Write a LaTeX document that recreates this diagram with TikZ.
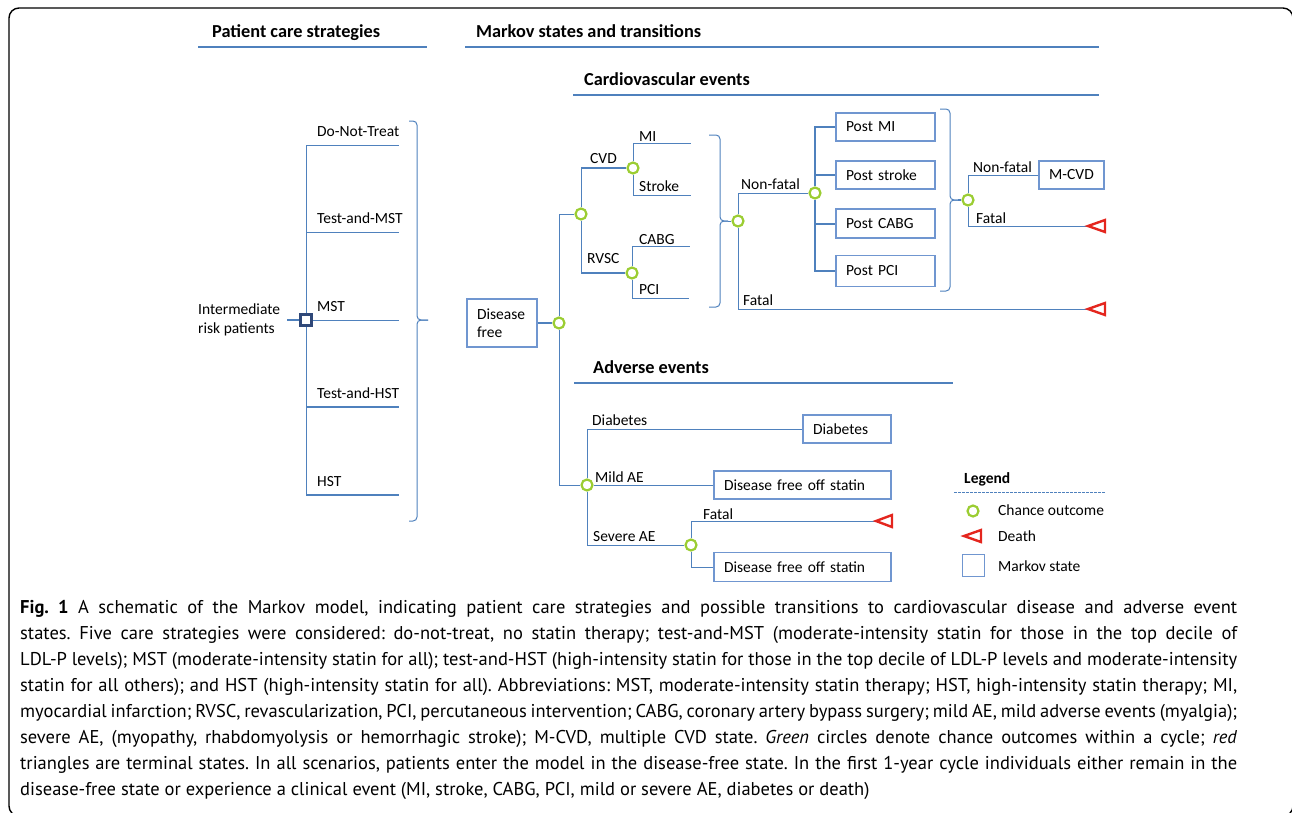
\documentclass[tikz,border=0pt]{standalone}
\usepackage{fontspec}
\setmainfont{Carlito}
\newfontfamily\capfont{PT Sans}
\usetikzlibrary{calc}
\frenchspacing
\definecolor{lineblue}{RGB}{79,129,189}
\definecolor{boxblue}{RGB}{112,150,208}
\definecolor{decblue}{RGB}{47,72,120}
\definecolor{chgreen}{RGB}{155,205,50}
\definecolor{deathred}{RGB}{228,38,30}
\newcommand\lblfont{\fontsize{15.5}{18}\selectfont}
\newcommand\hdfont{\fontsize{18.3}{21}\selectfont\bfseries}
\newcommand\capsize{\capfont\fontsize{18.5}{24}\selectfont}
\tikzset{
 ln/.style={draw=lineblue, line width=1pt},
 thk/.style={draw=lineblue, line width=2pt},
 chance/.style={circle, draw=chgreen, line width=2.2pt, fill=white, minimum size=11pt, inner sep=0pt},
 statebox/.style={draw=boxblue, line width=1.1pt, fill=white, inner xsep=10pt, inner ysep=0pt, align=left, font=\lblfont},
 lbl/.style={font=\lblfont, inner sep=0pt, anchor=base west},
 head/.style={font=\hdfont, inner sep=0pt, anchor=base west},
 hline/.style={draw=lineblue, line width=2.2pt},
 deathtri/.style={draw=deathred, line width=2.4pt, fill=white, line join=miter},
 decbox/.style={rectangle, draw=decblue, line width=2.6pt, fill=white, minimum size=11pt, inner sep=0pt},
 bracepath/.style={draw=lineblue, line width=1pt, rounded corners=4pt},
 capline/.style={font=\capsize, inner sep=0pt, anchor=base west},
}
\begin{document}
\begin{tikzpicture}[x=1pt,y=-1pt]
\useasboundingbox (0,0) rectangle (1292,812);
\clip (0,0) rectangle (1292,812);
\draw[black, line width=1.4pt, rounded corners=10pt] (9,8) rectangle (1293,816);

% headings
\node[head] (h1) at (212,37) {Patient care strategies};
\draw[hline] (198,47) -- (427,47);
\node[head] (h2) at (476,37) {Markov states and transitions};
\draw[hline] (465,47) -- (1099,47);
\node[head] (h3) at (584,85) {Cardiovascular events};
\draw[hline] (573,95) -- (1099,95);
\node[head] (h4) at (593,373) {Adverse events};
\draw[hline] (574,383) -- (953,383);

% left tree
\node[lbl] (ipa) at (198,314) {Intermediate};
\node[lbl] (ipb) at (198,333) {risk patients};
\coordinate (ipx) at (287,320);
\node[decbox] (dec) at (306,320) {};
\coordinate (e1) at (399,145);
\coordinate (e2) at (399,232);
\coordinate (e3) at (399,320);
\coordinate (e4) at (399,407);
\coordinate (e5) at (399,495);
\draw[thk] (ipx) -- (dec);
\draw[ln] (dec.north) |- (e1);
\draw[ln] (dec.north) |- (e2);
\draw[ln] (dec) -- (e3);
\draw[ln] (dec.south) -- (dec.south |- e4);
\draw[thk] (dec.south |- e4) -- (e4);
\draw[ln] (dec.south) -- (dec.south |- e5);
\draw[thk] (dec.south |- e5) -- (e5);
\node[lbl] (l1) at (317,136) {Do-Not-Treat};
\node[lbl] (l2) at (317,223) {Test-and-MST};
\node[lbl] (l3) at (317,311) {MST};
\node[lbl] (l4) at (317,398) {Test-and-HST};
\node[lbl] (l5) at (317,486) {HST};
\draw[bracepath] (409,121) -- (417,121) -- (417,320) -- (428,320);
\draw[bracepath] (428,320) -- (417,320) -- (417,521) -- (409,521);

% disease free and chance nodes
\node[statebox, text width=50pt, minimum height=48pt] (df) at (502,323) {\baselineskip=18pt Disease\\free};
\node[chance] (c0) at (559,323) {};
\node[chance] (c1) at (581,214) {};
\node[chance] (cCVD) at (633,168) {};
\node[chance] (cRV) at (632,273) {};
\node[chance] (cNF) at (738,221) {};
\node[chance] (cPost) at (815,193) {};
\node[chance] (cM) at (968,200) {};
\node[chance] (cAE) at (587,485) {};
\node[chance] (cSev) at (691,545) {};

\draw[thk] (df) -- (c0);
\draw[ln] (c0) |- (c1);
\draw[ln] (c0) |- (cAE);
\coordinate (k1) at (c1 |- cCVD);
\coordinate (k2) at (c1 |- cRV);
\draw[ln] (c1) -- (k1);
\draw[thk] (k1) -- (cCVD);
\draw[ln] (c1) -- (k2);
\draw[thk] (k2) -- (cRV);
\node[lbl] (lcvd) at (590,163) {CVD};
\node[lbl] (lrv) at (587,263) {RVSC};

\coordinate (mi) at (691,143);
\coordinate (st) at (691,195);
\coordinate (cabg) at (690,246);
\coordinate (pci) at (689,298);
\draw[ln] (cCVD) |- (mi);
\draw[ln] (cCVD) |- (st);
\draw[ln] (cRV) |- (cabg);
\draw[ln] (cRV) |- (pci);
\node[lbl] (lmi) at (639,141) {MI};
\node[lbl] (lst) at (639,191) {Stroke};
\node[lbl] (lcabg) at (639,244) {CABG};
\node[lbl] (lpci) at (639,294) {PCI};

\draw[bracepath] (709,135) -- (720,135) -- (720,221) -- (728,221);
\draw[bracepath] (728,221) -- (720,221) -- (720,307) -- (709,307);
\coordinate (br2) at (728,221);
\draw[ln] (br2) -- (cNF);

% post states
\node[statebox, text width=79pt, minimum height=28pt] (pmi) at (885.5,127) {Post MI};
\node[statebox, text width=79pt, minimum height=28pt] (pst) at (885.5,175) {Post stroke};
\node[statebox, text width=79pt, minimum height=29pt] (pcabg) at (885.5,223.5) {Post CABG};
\node[statebox, text width=79pt, minimum height=31pt] (ppci) at (885.5,271) {Post PCI};
\coordinate (d1) at (1088,226);
\coordinate (d2) at (1088,309);
\coordinate (d3) at (876,521);
\draw[ln] (cNF) |- (cPost);
\draw[ln] (cNF) |- (d2);
\node[lbl] (lnf) at (741,189) {Non-fatal};
\node[lbl] (lf) at (743,305) {Fatal};
\draw[thk] (cPost) |- (pmi.west);
\draw[thk] (cPost) |- (pst.west);
\draw[thk] (cPost) |- (pcabg.west);
\draw[thk] (cPost) |- (ppci.west);

\draw[bracepath] (940,109) -- (950,109) -- (950,200) -- (958,200);
\draw[bracepath] (958,200) -- (950,200) -- (950,291) -- (940,291);
\coordinate (br3) at (958,200);
\draw[thk] (br3) -- (cM);
\node[statebox, text width=45pt, align=center, minimum height=28pt] (mcvd) at (1071.5,175) {M-CVD};
\draw[ln] (cM) |- (mcvd.west);
\draw[ln] (cM) |- (d1);
\node[lbl] (lnf2) at (973,172) {Non-fatal};
\node[lbl] (lf2) at (976,223) {Fatal};

% adverse events
\node[statebox, text width=68pt, minimum height=28pt] (diab) at (847,429) {Diabetes};
\node[statebox, text width=157pt, minimum height=28pt] (dfos1) at (802.5,485) {Disease free off statin};
\node[statebox, text width=157pt, minimum height=29pt] (dfos2) at (802.5,567) {Disease free off statin};
\draw[ln] (cAE) |- (diab.west);
\draw[ln] (cAE) -- (dfos1.west);
\draw[ln] (cAE) |- (cSev);
\draw[ln] (cSev) |- (d3);
\draw[ln] (cSev) |- (dfos2.west);
\node[lbl] (ldiab) at (592,425) {Diabetes};
\node[lbl] (lmild) at (595,482) {Mild AE};
\node[lbl] (lsev) at (593,541) {Severe AE};
\node[lbl] (lf3) at (703,519) {Fatal};

% death triangles
\draw[deathtri] (d1) -- ++(17,-6) -- ++(0,12) -- cycle;
\draw[deathtri] (d2) -- ++(17,-6) -- ++(0,12) -- cycle;
\draw[deathtri] (d3) -- ++(16,-6) -- ++(0,12) -- cycle;

% legend
\node[head, font=\lblfont\bfseries] (lgt) at (964,483) {Legend};
\draw[draw=lineblue, line width=0.8pt, dash pattern=on 2.5pt off 1.5pt] (954,492) -- (1105,492);
\node[chance] (lgc) at (973,511) {};
\coordinate (d4) at (964,536);
\draw[deathtri] (d4) -- ++(17,-6) -- ++(0,12) -- cycle;
\node[draw=boxblue, line width=1.1pt, minimum size=22pt, inner sep=0pt] (lgs) at (973.5,565.5) {};
\node[lbl] (lg1) at (998,515) {Chance outcome};
\node[lbl] (lg2) at (998,541) {Death};
\node[lbl] (lg3) at (998,571) {Markov state};

% caption
\node[capline] (cap1) at (20,613) {\makebox[1217pt][s]{\textbf{Fig.~1} A schematic of the Markov model, indicating patient care strategies and possible transitions to cardiovascular disease and adverse event}};
\node[capline] (cap2) at (20,639) {\makebox[1217pt][s]{states. Five care strategies were considered: do-not-treat, no statin therapy; test-and-MST (moderate-intensity statin for those in the top decile of}};
\node[capline] (cap3) at (20,665) {\makebox[1217pt][s]{LDL-P levels); MST (moderate-intensity statin for all); test-and-HST (high-intensity statin for those in the top decile of LDL-P levels and moderate-intensity}};
\node[capline] (cap4) at (20,691) {\makebox[1217pt][s]{statin for all others); and HST (high-intensity statin for all). Abbreviations: MST, moderate-intensity statin therapy; HST, high-intensity statin therapy; MI,}};
\node[capline] (cap5) at (20,717) {\makebox[1217pt][s]{myocardial infarction; RVSC, revascularization, PCI, percutaneous intervention; CABG, coronary artery bypass surgery; mild AE, mild adverse events (myalgia);}};
\node[capline] (cap6) at (20,743) {\makebox[1217pt][s]{severe AE, (myopathy, rhabdomyolysis or hemorrhagic stroke); M-CVD, multiple CVD state. \textit{Green} circles denote chance outcomes within a cycle; \textit{red}}};
\node[capline] (cap7) at (20,769) {\makebox[1217pt][s]{triangles are terminal states. In all scenarios, patients enter the model in the disease-free state. In the first 1-year cycle individuals either remain in the}};
\node[capline] (cap8) at (20,795) {disease-free state or experience a clinical event (MI, stroke, CABG, PCI, mild or severe AE, diabetes or death)};
\end{tikzpicture}
\end{document}
